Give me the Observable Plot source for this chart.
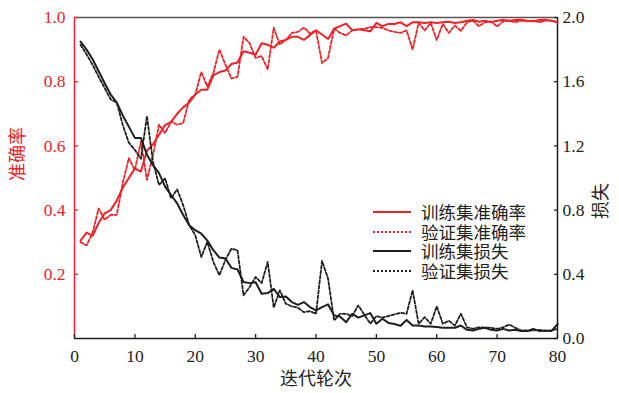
<!DOCTYPE html>
<html>
<head>
<meta charset="utf-8">
<script src="https://cdn.jsdelivr.net/npm/d3@7"></script>
<script src="https://cdn.jsdelivr.net/npm/@observablehq/plot@0.6"></script>
<style>
  html, body { margin: 0; padding: 0; background: #fff; }
  #wrap { position: relative; width: 619px; height: 393px; }
  #wrap svg text { font-family: "Liberation Serif", "Times New Roman", "DejaVu Serif", serif !important; }
  #wrap svg text.cjk, #wrap svg .cjk text { font-family: "Noto Sans CJK SC", sans-serif !important; }
  #legend { position: absolute; left: 373px; top: 202px; font-family: "Noto Sans CJK SC", sans-serif; font-size: 17.5px; color: #222; }
  #legend .row { display: flex; align-items: center; height: 19.7px; }
  #legend .row span { display: inline-block; height: 19.7px; line-height: 19.7px; overflow: visible; white-space: nowrap; }
  #legend svg { width: 40px; height: 6px; margin-right: 8px; }
</style>
</head>
<body>
<div id="wrap"></div>
<script>
// ---- data ----
const epochs = d3.range(1, 81);
const trainAcc = [0.305,0.33,0.32,0.36,0.39,0.40,0.43,0.47,0.50,0.53,
  0.52,0.585,0.605,0.635,0.665,0.675,0.70,0.72,0.735,0.76,
  0.775,0.775,0.82,0.83,0.835,0.855,0.86,0.895,0.89,0.884,
  0.92,0.915,0.906,0.925,0.93,0.94,0.94,0.93,0.945,0.96,
  0.947,0.933,0.965,0.973,0.981,0.96,0.963,0.96,0.957,0.983,
  0.973,0.98,0.98,0.985,0.973,0.985,0.985,0.983,0.985,0.983,
  0.985,0.987,0.983,0.985,0.99,0.992,0.987,0.99,0.985,0.99,
  0.992,0.99,0.992,0.993,0.99,0.988,0.992,0.993,0.99,0.985];
const valAcc = [0.30,0.29,0.33,0.405,0.37,0.385,0.385,0.485,0.562,0.525,
  0.613,0.494,0.572,0.666,0.64,0.676,0.666,0.671,0.744,0.76,
  0.83,0.785,0.827,0.90,0.853,0.81,0.815,0.94,0.92,0.874,
  0.88,0.838,0.968,0.916,0.93,0.952,0.955,0.969,0.95,0.96,
  0.858,0.874,0.965,0.952,0.944,0.96,0.963,0.965,0.97,0.97,
  0.968,0.96,0.955,0.952,0.96,0.90,0.983,0.96,0.983,0.93,
  0.98,0.952,0.975,0.958,0.985,0.99,0.973,0.985,0.988,0.972,
  0.988,0.99,0.985,0.99,0.988,0.99,0.985,0.99,0.99,0.985];
const trainLoss = [1.85,1.80,1.74,1.665,1.59,1.52,1.47,1.39,1.32,1.25,
  1.25,1.145,1.08,1.03,0.946,0.894,0.842,0.77,0.706,0.675,
  0.654,0.61,0.55,0.504,0.498,0.44,0.43,0.352,0.345,0.35,
  0.279,0.283,0.31,0.258,0.262,0.227,0.21,0.227,0.196,0.175,
  0.196,0.2125,0.144,0.135,0.102,0.154,0.13,0.144,0.158,0.092,
  0.123,0.097,0.09,0.08,0.115,0.081,0.081,0.075,0.075,0.071,
  0.067,0.067,0.067,0.081,0.054,0.05,0.06,0.067,0.054,0.05,
  0.06,0.05,0.054,0.046,0.046,0.06,0.046,0.05,0.046,0.09];
const valLoss = [1.83,1.77,1.705,1.63,1.56,1.49,1.47,1.33,1.22,1.175,
  1.12,1.385,1.10,0.956,0.998,0.873,0.929,0.831,0.706,0.644,
  0.508,0.602,0.477,0.394,0.49,0.56,0.55,0.269,0.32,0.383,
  0.345,0.477,0.192,0.30,0.217,0.20,0.192,0.164,0.17,0.154,
  0.483,0.373,0.1125,0.154,0.154,0.14,0.206,0.148,0.092,0.14,
  0.13,0.14,0.15,0.16,0.154,0.30,0.092,0.133,0.092,0.20,
  0.092,0.11,0.081,0.154,0.07,0.06,0.07,0.067,0.067,0.06,
  0.07,0.0875,0.067,0.05,0.05,0.05,0.054,0.046,0.05,0.06];
const xTicks = [0,10,20,30,40,50,60,70,80];
const accTicks = [0.2,0.4,0.6,0.8,1.0];
const lossTicks = [0.0,0.4,0.8,1.2,1.6,2.0];
const lossMax = 2.0;
const seriesNames = ["训练集准确率","验证集准确率","训练集损失","验证集损失"];
const xLabel = "迭代轮次", yLabelLeft = "准确率", yLabelRight = "损失";

// ---- styles ----
const RED = "#ec2328", BLACK = "#1e1e1e";
const NUM = "Liberation Serif";
const CJK = "Noto Sans CJK SC";

const rows = epochs.map((e, i) => ({epoch: e, trainAcc: trainAcc[i], valAcc: valAcc[i], trainLoss: trainLoss[i], valLoss: valLoss[i]}));

const chart = Plot.plot({
  width: 619, height: 393,
  marginLeft: 74, marginRight: 62, marginTop: 17, marginBottom: 55,
  style: {fontFamily: NUM, fontSize: "17px", background: "#fff", overflow: "visible"},
  x: {domain: [0, 80], axis: null},
  y: {domain: [0, 1], axis: null},
  marks: [
    // frame
    Plot.ruleY([1], {stroke: "#555", strokeWidth: 1.5}),
    Plot.ruleY([0], {stroke: BLACK, strokeWidth: 1.5}),
    Plot.ruleX([80], {stroke: BLACK, strokeWidth: 1.5}),
    Plot.ruleX([0], {stroke: RED, strokeWidth: 1.5}),
    // ticks (inward)
    Plot.axisY({anchor: "left", ticks: accTicks, tickSize: -4, tickFormat: () => "", stroke: RED, strokeWidth: 1.3, label: null}),
    Plot.axisY({anchor: "left", ticks: accTicks, tickSize: 0, tickPadding: 9, tickFormat: d => d.toFixed(1), fill: RED, fontSize: 17.5, label: null}),
    Plot.axisY({anchor: "right", ticks: lossTicks.map(v => v / lossMax), tickSize: -4, tickFormat: () => "", stroke: BLACK, strokeWidth: 1.3, label: null}),
    Plot.axisY({anchor: "right", ticks: lossTicks.map(v => v / lossMax), tickSize: 0, tickPadding: 5,
      tickFormat: (d, i) => lossTicks[i].toFixed(1), fill: "#222", fontSize: 17.5, label: null}),
    Plot.axisX({anchor: "bottom", ticks: xTicks, tickSize: -4, tickFormat: () => "", stroke: BLACK, strokeWidth: 1.3, label: null}),
    Plot.axisX({anchor: "bottom", ticks: xTicks, tickSize: 0, tickPadding: 11, tickFormat: d => String(d), fill: "#222", fontSize: 17.5, label: null}),
    // axis titles
    Plot.text([yLabelLeft], {text: d => d, frameAnchor: "left", dx: -56, dy: 3, rotate: -90, fill: RED, fontSize: 18, className: "cjk"}),
    Plot.text([yLabelRight], {text: d => d, frameAnchor: "right", dx: 44, dy: 5, rotate: -90, fill: "#222", fontSize: 18, className: "cjk"}),
    Plot.text([xLabel], {text: d => d, frameAnchor: "bottom", dy: 46, fill: "#222", fontSize: 18, className: "cjk"}),
    // series
    Plot.line(rows, {x: "epoch", y: "valAcc", stroke: RED, strokeWidth: 1.8, strokeDasharray: "3,2"}),
    Plot.line(rows, {x: "epoch", y: "trainAcc", stroke: RED, strokeWidth: 2}),
    Plot.line(rows, {x: "epoch", y: d => d.valLoss / lossMax, stroke: BLACK, strokeWidth: 1.8, strokeDasharray: "3,2"}),
    Plot.line(rows, {x: "epoch", y: d => d.trainLoss / lossMax, stroke: BLACK, strokeWidth: 2})
  ]
});

const wrap = document.getElementById("wrap");
wrap.appendChild(chart);

// legend
const legendStyles = [
  {stroke: RED, dash: null}, {stroke: RED, dash: "2,2"},
  {stroke: BLACK, dash: null}, {stroke: BLACK, dash: "2,2"}
];
const legend = document.createElement("div");
legend.id = "legend";
seriesNames.forEach((name, i) => {
  const row = document.createElement("div");
  row.className = "row";
  const s = legendStyles[i];
  row.innerHTML = `<svg viewBox="0 0 40 6"><line x1="0" x2="38" y1="3" y2="3" stroke="${s.stroke}" stroke-width="2" ${s.dash ? `stroke-dasharray="${s.dash}"` : ""}/></svg><span>${name}</span>`;
  legend.appendChild(row);
});
wrap.appendChild(legend);
</script>
</body>
</html>
